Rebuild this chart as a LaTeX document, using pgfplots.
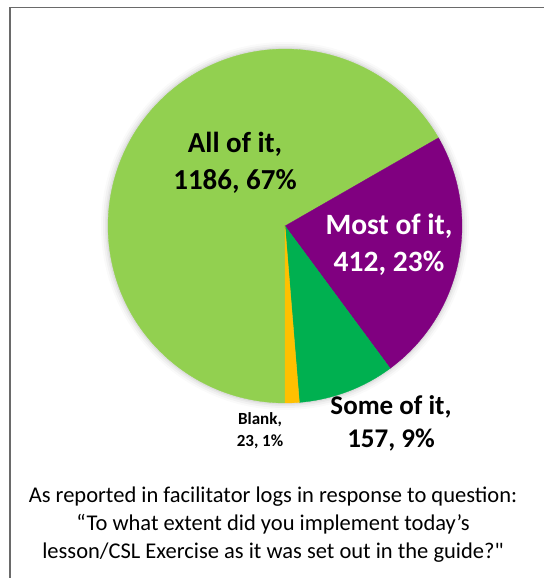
\documentclass[border=0pt]{standalone}
\usepackage{fontspec}
\setmainfont{Carlito}
\newfontfamily\nomapfont{Carlito}[Ligatures=TeXOff]
\usepackage{pgfplots}
\pgfplotsset{compat=1.18}
\definecolor{allc}{HTML}{92D050}
\definecolor{mostc}{HTML}{800080}
\definecolor{somec}{HTML}{00B050}
\definecolor{blankc}{HTML}{FFC000}
\definecolor{framec}{HTML}{6A6A6A}
\begin{document}
\begin{tikzpicture}
% data values (counts)
\def\vAll{1186}\def\vMost{412}\def\vSome{157}\def\vBlank{23}
\pgfmathsetmacro\tot{\vAll+\vMost+\vSome+\vBlank}
\pgfmathsetmacro\aS{-90}
\pgfmathsetmacro\aA{\aS-360*(\vAll/\tot)}
\pgfmathsetmacro\aM{\aA-360*(\vMost/\tot)}
\pgfmathsetmacro\aSo{\aM-360*(\vSome/\tot)}
\pgfmathsetmacro\aB{\aSo-360*(\vBlank/\tot)}
\path[use as bounding box] (0,0) rectangle (544pt,-578pt);
\draw[framec, line width=1.6pt] (10pt,-578pt) -- (10pt,-7.6pt) -- (544pt,-7.6pt);
% soft shadow
\foreach \k/\o in {7/0.02,5/0.03,3/0.04,1.5/0.05}
  \fill[black,opacity=\o] (285pt,-226pt) circle (177pt+\k pt);
\begin{axis}[at={(285pt,-226pt)}, anchor=center, width=354pt, height=354pt,
  scale only axis, xmin=-1, xmax=1, ymin=-1, ymax=1, hide axis, clip=false]
\addplot[fill=allc, draw=allc, line width=0.3pt, domain=\aA:\aS, samples=150]
  ({cos(x)},{sin(x)}) -- (axis cs:0,0) -- cycle;
\addplot[fill=mostc, draw=mostc, line width=0.3pt, domain=\aM:\aA, samples=60]
  ({cos(x)},{sin(x)}) -- (axis cs:0,0) -- cycle;
\addplot[fill=somec, draw=somec, line width=0.3pt, domain=\aSo:\aM, samples=30]
  ({cos(x)},{sin(x)}) -- (axis cs:0,0) -- cycle;
\addplot[fill=blankc, draw=blankc, line width=0.3pt, domain=\aB:\aSo, samples=10]
  ({cos(x)},{sin(x)}) -- (axis cs:0,0) -- cycle;
\end{axis}
\node[align=center, font=\fontsize{29}{37.5}\selectfont\bfseries] at (235pt,-163pt) {All of it,\\1186, 67\%};
\node[align=center, text=white, font=\fontsize{29.5}{37.5}\selectfont\bfseries] at (389pt,-244.5pt) {Most of it,\\412, 23\%};
\node[align=center, font=\fontsize{27}{33}\selectfont\bfseries] at (391pt,-423.5pt) {Some of it,\\157, 9\%};
\node[align=center, font=\fontsize{17}{22}\selectfont\bfseries] at (260pt,-431pt) {Blank,\\23, 1\%};
\node[align=center, font=\fontsize{22.5}{28}\selectfont] at (273pt,-525pt) {As reported in facilitator logs in response to question:\\“To what extent did you implement today’s\\lesson/CSL Exercise as it was set out in the guide?{\nomapfont "}};
\end{tikzpicture}
\end{document}
